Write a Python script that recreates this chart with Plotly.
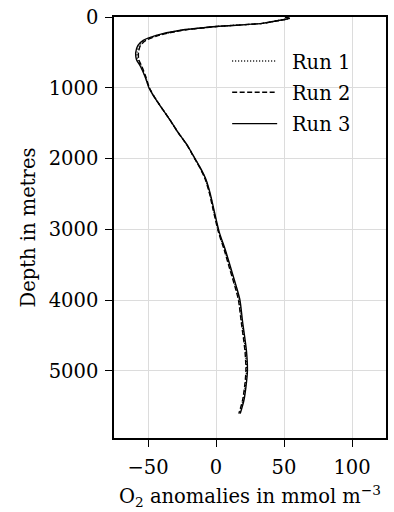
import plotly.graph_objects as go

depth = [5, 20, 50, 90, 135, 190, 260, 330, 400, 500, 600, 700, 850, 1000, 1100,
         1270, 1450, 1620, 1800, 1950, 2150, 2300, 2500, 2700, 3040, 3300, 3555,
         3800, 4000, 4300, 4720, 5000, 5230, 5420, 5605]

run1 = [51, 54, 46, 34, 0.3, -26, -43, -52.3, -56.3, -58, -57.6, -55, -51.8, -49.1, -46.3,
        -40.5, -34, -28.3, -21.6, -17.1, -11.2, -7.6, -4.5, -2.1, 2.0, 6.5, 10.4,
        14.2, 16.9, 18.9, 21.7, 22.4, 21.4, 19.9, 17.2]

run2 = [51, 54, 46, 34, 0.5, -25.5, -42, -51.5, -55.5, -57, -56.8, -54.5, -51.5, -49, -46.2,
        -40.5, -34, -28.4, -21.7, -17.2, -11.3, -7.8, -4.7, -2.4, 1.8, 6.2, 10,
        13.8, 16.5, 18.5, 21.3, 22, 21, 19.5, 16.8]

run3 = [51, 54, 46, 34, 0, -27, -44, -53.5, -57.4, -59, -58.5, -55.5, -52, -49.3, -46.4,
        -40.5, -34, -28.3, -21.5, -17, -11, -7.3, -4.2, -1.8, 2.4, 7, 11,
        14.8, 17.6, 19.5, 22.4, 23.1, 22, 20.5, 17.8]

names = ["Run 1", "Run 2", "Run 3"]
dashes = ["1px,2px", "5px,2.5px", "solid"]
x_ticks = [-50, 0, 50, 100]
y_ticks = [0, 1000, 2000, 3000, 4000, 5000]

FONT = "DejaVu Serif"

fig = go.Figure()
for nm, vals, ds in zip(names, [run1, run2, run3], dashes):
    fig.add_trace(go.Scatter(
        x=vals, y=depth, mode="lines", name="\u2002" + nm, legendgroup=nm,
        line=dict(color="black", width=1.4, dash=ds, shape="spline", smoothing=0.7),
    ))

axis_common = dict(
    showline=True, linecolor="black", linewidth=1.6, mirror=True,
    ticks="outside", ticklen=7, tickwidth=1.4, tickcolor="black",
    showgrid=True, gridcolor="#dcdcdc", gridwidth=1, zeroline=False,
    tickfont=dict(family=FONT, size=19.5, color="black"),
)

fig.update_xaxes(range=[-75, 125], tickvals=x_ticks,
                 ticktext=[("−" + str(-v)) if v < 0 else str(v) for v in x_ticks],
                 ticklabelstandoff=4,
                 title=dict(text="O<sub>2</sub> anomalies in mmol m<sup>−3</sup>",
                            font=dict(family=FONT, size=19.5, color="black"), standoff=11),
                 **axis_common)
fig.update_yaxes(range=[5950, 0], tickvals=y_ticks,
                 ticklabelstandoff=3,
                 title=dict(text="Depth in metres",
                            font=dict(family=FONT, size=19.5, color="black"), standoff=8),
                 **axis_common)

fig.update_layout(
    width=394, height=512,
    margin=dict(l=114, r=6, t=13, b=74),
    plot_bgcolor="white", paper_bgcolor="white",
    font=dict(family=FONT, size=19.5, color="black"),
    showlegend=True,
    legend=dict(x=(228 - 114) / 274, y=1 - (38 - 13) / 425, xanchor="left", yanchor="top",
                bgcolor="rgba(0,0,0,0)", borderwidth=0, tracegroupgap=3,
                itemwidth=45, font=dict(family=FONT, size=19.5, color="black")),
)

fig.write_html("out.html")
